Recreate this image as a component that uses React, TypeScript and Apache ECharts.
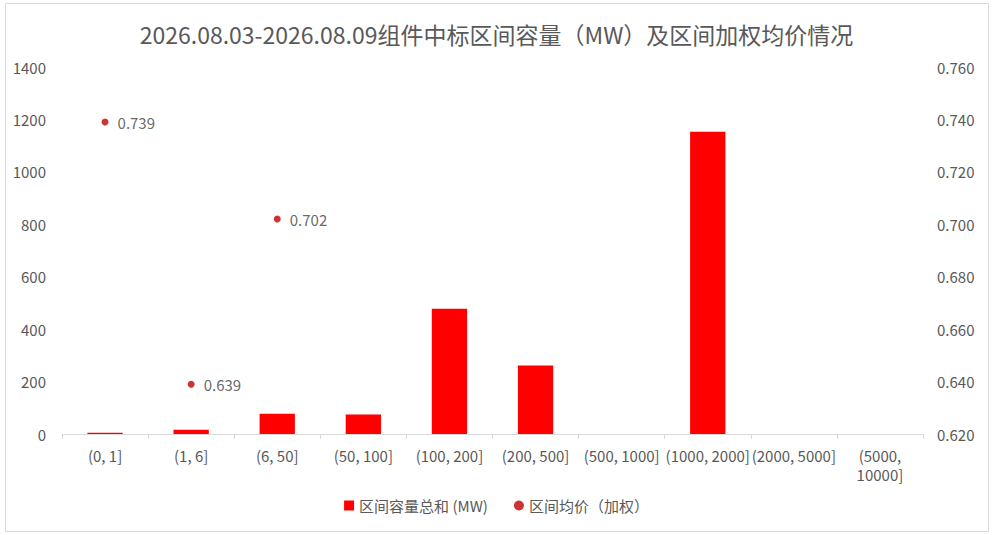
import React, { useEffect, useRef } from "react";
import * as echarts from "echarts";

const categories = ["(0, 1]", "(1, 6]", "(6, 50]", "(50, 100]", "(100, 200]", "(200, 500]", "(500, 1000]", "(1000, 2000]", "(2000, 5000]", "(5000, 10000]"];
const capacity = [5, 16, 77, 74, 478, 261, 0, 1153, 0, 0];
const avgPrice: (number | null)[] = [0.739, 0.639, 0.702, null, null, null, null, null, null, null];
const leftTicks = [0, 1400, 200];
const rightTicks = [0.62, 0.76, 0.02];

const FONT = "'Noto Sans CJK SC', 'Noto Sans', sans-serif";

export default function App() {
  const ref = useRef<HTMLDivElement>(null);
  useEffect(() => {
    document.body.style.margin = "0";
    const chart = echarts.init(ref.current!, null, { renderer: "svg" });
    chart.setOption({
      animation: false,
      backgroundColor: "#ffffff",
      textStyle: { fontFamily: FONT },
      title: {
        text: "2026.08.03-2026.08.09组件中标区间容量（MW）及区间加权均价情况",
        left: "center",
        top: 17,
        textStyle: { fontSize: 23, fontWeight: "normal", color: "#595959", fontFamily: FONT },
      },
      graphic: [
        {
          type: "rect",
          shape: { x: 5.5, y: 3.5, width: 983, height: 528 },
          style: { fill: "none", stroke: "#d9d9d9", lineWidth: 1 },
          silent: true,
        },
      ],
      legend: {
        bottom: 17,
        left: "center",
        itemGap: 26,
        itemWidth: 10,
        itemHeight: 10,
        textStyle: { fontSize: 15, color: "#595959", fontFamily: FONT },
        data: [
          { name: "区间容量总和 (MW)", icon: "rect" },
          { name: "区间均价（加权）", icon: "circle", itemStyle: { color: "#c00000" } },
        ],
      },
      grid: { left: 62, right: 70, top: 67, bottom: 101 },
      xAxis: {
        type: "category",
        data: categories,
        axisLine: { lineStyle: { color: "#d9d9d9" } },
        axisTick: { show: true, length: 5, lineStyle: { color: "#d9d9d9" } },
        axisLabel: {
          color: "#595959",
          fontSize: 15,
          margin: 12,
          interval: 0,
          lineHeight: 19,
          formatter: (v: string) => (v.length > 12 ? v.replace(", ", ",\n") : v),
        },
      },
      yAxis: [
        {
          type: "value",
          min: leftTicks[0],
          max: leftTicks[1],
          interval: leftTicks[2],
          splitLine: { show: false },
          axisLine: { show: false },
          axisTick: { show: false },
          axisLabel: { color: "#595959", fontSize: 15, margin: 16, formatter: (v: number) => String(v) },
        },
        {
          type: "value",
          min: rightTicks[0],
          max: rightTicks[1],
          interval: rightTicks[2],
          splitLine: { show: false },
          axisLine: { show: false },
          axisTick: { show: false },
          axisLabel: {
            color: "#595959",
            fontSize: 15,
            margin: 14,
            formatter: (v: number) => v.toFixed(3),
          },
        },
      ],
      series: [
        {
          name: "区间容量总和 (MW)",
          type: "bar",
          data: capacity,
          barWidth: "41%",
          itemStyle: { color: "#ff0000" },
          yAxisIndex: 0,
        },
        {
          name: "区间均价（加权）",
          type: "scatter",
          data: avgPrice,
          yAxisIndex: 1,
          symbolSize: 7,
          itemStyle: { color: "#c00000" },
          label: {
            show: true,
            position: "right",
            distance: 9,
            color: "#404040",
            fontSize: 15,
            formatter: (p: any) => (p.value == null ? "" : Number(p.value).toFixed(3)),
          },
        },
      ],
    });
    return () => chart.dispose();
  }, []);
  return <div ref={ref} style={{ width: 993, height: 535 }} />;
}
